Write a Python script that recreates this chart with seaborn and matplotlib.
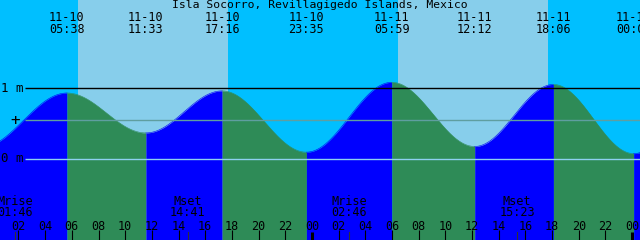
import numpy as np
import pandas as pd
import matplotlib
matplotlib.use("Agg")
import matplotlib.pyplot as plt
import matplotlib.transforms as mtransforms
import seaborn as sns

# ---------------- data ----------------
title = "Isla Socorro, Revillagigedo Islands, Mexico"
tide_days = ["11-09", "11-10", "11-10", "11-10", "11-10", "11-11", "11-11", "11-11", "11-12", "11-12"]
tide_times = ["23:06", "05:38", "11:33", "17:16", "23:35", "05:59", "12:12", "18:06", "00:07", "06:20"]
tide_heights = [0.16, 0.93, 0.37, 0.96, 0.10, 1.08, 0.18, 1.05, 0.08, 1.00]
labelled = [False, True, True, True, True, True, True, True, True, False]

sun_days = ["11-10", "11-10", "11-11", "11-11"]
sun_times = ["06:28", "17:43", "06:28", "17:42"]  # sunrise, sunset, sunrise, sunset

moon_names = ["Mrise", "Mset", "Mrise", "Mset"]
moon_days = ["11-10", "11-10", "11-11", "11-11"]
moon_times = ["01:46", "14:41", "02:46", "15:23"]

hour_ticks = list(range(2, 49, 2))
level_marks = [1.0, 0.547, 0.0]
level_labels = ["1 m", "+", "0 m"]

# ---------------- helpers ----------------
day_offset = {"11-09": -24, "11-10": 0, "11-11": 24, "11-12": 48}


def to_hours(d, t):
    hh, mm = t.split(":")
    return day_offset[d] + int(hh) + int(mm) / 60.0


tt = np.array([to_hours(d, t) for d, t in zip(tide_days, tide_times)])
hh = np.array(tide_heights)

PX_PER_H = 13.34
X0 = -8.2  # pixel of hour 0
PX_PER_M = 71.3
Y0 = 159.3  # pixel row of 0 m
W, H = 640, 240

xlim = ((0 - X0) / PX_PER_H, (W - X0) / PX_PER_H)
ylim = ((Y0 - H) / PX_PER_M, Y0 / PX_PER_M)

NIGHT = "#00BFFF"
DAY = "#87CEEB"
RISE = "#0000FF"
FALL = "#2E8B57"

fig = plt.figure(figsize=(6.4, 2.4), dpi=100)
ax = fig.add_axes([0, 0, 1, 1])
ax.set_xlim(*xlim)
ax.set_ylim(*ylim)
ax.axis("off")
ax.set_facecolor(NIGHT)
fig.patch.set_facecolor(NIGHT)

# day bands
sun_h = [to_hours(d, t) for d, t in zip(sun_days, sun_times)]
for a, b in zip(sun_h[0::2], sun_h[1::2]):
    ax.axvspan(a, b, color=DAY, lw=0, zorder=0)

# tide curve (cosine shaped between extremes)
for i in range(len(tt) - 1):
    t = np.linspace(tt[i], tt[i + 1], 200)
    f = (t - tt[i]) / (tt[i + 1] - tt[i])
    y = hh[i] + (hh[i + 1] - hh[i]) * (1 - np.cos(np.pi * f)) / 2
    col = RISE if hh[i + 1] > hh[i] else FALL
    ax.fill_between(t, ylim[0] - 1, y, color=col, lw=0, zorder=1)
    seg = pd.DataFrame({"t": t, "h": y})
    sns.lineplot(data=seg, x="t", y="h", ax=ax, color=col, lw=0.4, zorder=1)

# level lines
line_cols = ["#000000", "#5F9EA0", "#8ED0F0"]
xline0 = (25 - X0) / PX_PER_H
for lv, c in zip(level_marks, line_cols):
    ax.plot([xline0, xlim[1]], [lv, lv], color=c, lw=1.0, zorder=3, solid_capstyle="butt")

FONT = "DejaVu Sans Mono"
FS = 8.5


def fy(py):
    return 1 - py / H


blend = mtransforms.blended_transform_factory(ax.transData, fig.transFigure)

# level labels
ax.text(1 / W, fy(88), "1 m", transform=fig.transFigure, ha="left", va="center",
        family=FONT, fontsize=FS + 0.5, zorder=5)
ax.text(15 / W, fy(120.5), "+", transform=fig.transFigure, ha="center", va="center",
        family=FONT, fontsize=FS + 3, zorder=5)
ax.text(1 / W, fy(159), "0 m", transform=fig.transFigure, ha="left", va="center",
        family=FONT, fontsize=FS + 0.5, zorder=5)

# title
fig.text(0.5, fy(5.5), title, ha="center", va="center", family=FONT, fontsize=8.2)

# header tide labels
for d, t, x, lab in zip(tide_days, tide_times, tt, labelled):
    if not lab:
        continue
    ax.text(x, fy(17.5), d, transform=blend, ha="center", va="center", family=FONT, fontsize=FS, clip_on=False)
    ax.text(x, fy(29.5), t, transform=blend, ha="center", va="center", family=FONT, fontsize=FS, clip_on=False)

# moon events
for n, d, t in zip(moon_names, moon_days, moon_times):
    x = to_hours(d, t)
    ax.text(x, fy(201.5), n, transform=blend, ha="center", va="center", family=FONT, fontsize=FS)
    ax.text(x, fy(213), t, transform=blend, ha="center", va="center", family=FONT, fontsize=FS)
    ax.plot([x, x], [fy(231.5), 0], transform=blend, color="#333333", lw=0.8, zorder=4)

# hour ticks
for h in hour_ticks:
    lab = "%02d" % (h % 24)
    ax.text(h, fy(226), lab, transform=blend, ha="center", va="center", family=FONT, fontsize=FS)
    if h % 24 == 0:
        ax.plot([h, h], [fy(231.5), 0], transform=blend, color="black", lw=2.2, zorder=4,
                solid_capstyle="butt")
    else:
        ax.plot([h, h], [fy(230), 0], transform=blend, color="black", lw=0.8, zorder=4,
                solid_capstyle="butt")

fig.savefig("out.png", dpi=100, facecolor=fig.get_facecolor())
